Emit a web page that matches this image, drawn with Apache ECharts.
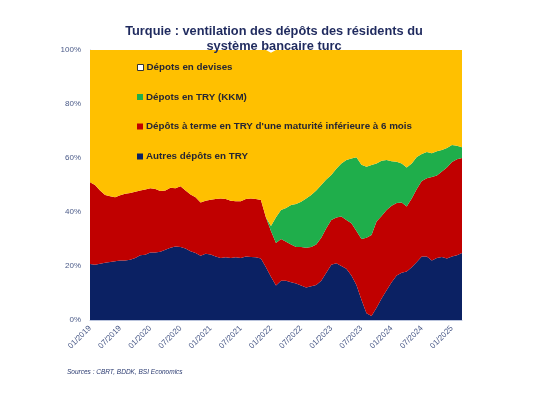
<!DOCTYPE html>
<html>
<head>
<meta charset="utf-8">
<script src="https://cdn.jsdelivr.net/npm/echarts@6/dist/echarts.min.js"></script>
<style>
html,body{margin:0;padding:0;background:#fff;}
#c{width:550px;height:398px;}
</style>
</head>
<body>
<div id="c"></div>
<script>
// Monthly categories 01/2019 .. 03/2025
const categories = [];
for (let y = 2019; y <= 2025; y++) {
  for (let m = 1; m <= 12; m++) {
    if (y === 2025 && m > 3) break;
    categories.push((m < 10 ? '0' + m : '' + m) + '/' + y);
  }
}

// Shares of residents' deposits (%)
const autresTRY = [20.7,20.5,20.8,21.2,21.5,21.8,22.0,22.0,22.3,23.0,
  24.0,24.2,25.0,25.0,25.3,26.0,26.8,27.2,27.0,26.5,
  25.5,24.8,23.8,24.5,24.3,23.5,23.0,23.2,23.0,23.2,
  23.0,23.5,23.3,23.2,22.8,19.5,16.0,12.8,14.5,14.5,
  14.0,13.5,12.8,12.0,12.5,13.0,14.5,17.5,20.5,21.0,
  20.0,19.0,16.5,13.0,7.5,2.5,1.5,4.5,8.0,11.0,
  14.0,16.5,17.5,18.0,19.5,21.5,23.5,23.5,22.0,23.0,
  23.3,22.8,23.5,24.0,24.8];

const termeTRY = [30.3,29.5,27.2,25.1,24.3,23.7,24.2,24.8,24.7,24.5,
  24.0,24.1,23.8,23.5,22.5,22.0,22.2,21.6,22.5,21.5,
  21.0,20.7,19.7,19.7,20.2,21.3,22.0,21.6,21.2,20.8,
  21.0,21.3,21.7,21.6,21.6,18.5,17.0,15.7,15.5,14.5,
  14.0,13.5,14.2,14.8,14.5,15.0,16.0,16.5,16.5,17.0,
  18.3,18.0,19.3,20.0,22.5,28.0,30.0,32.0,30.5,29.7,
  28.3,26.8,26.0,24.0,25.5,27.0,28.0,29.0,31.0,30.5,
  31.7,33.7,35.0,35.5,35.2];

const kkmTRY = [0,0,0,0,0,0,0,0,0,0,
  0,0,0,0,0,0,0,0,0,0,
  0,0,0,0,0,0,0,0,0,0,
  0,0,0,0,0,0,1.8,9.6,10.7,12.5,
  14.6,16.0,16.8,18.2,19.3,20.0,19.5,18.0,16.7,18.0,
  19.7,22.3,24.0,27.3,27.5,26.3,25.9,21.5,20.5,18.6,
  16.5,15.3,14.5,14.5,13.0,11.9,10.0,9.7,8.8,9.0,
  8.0,7.2,6.3,5.0,4.0];

const devises = [49.0,50.0,52.0,53.7,54.2,54.5,53.8,53.2,53.0,52.5,
  52.0,51.7,51.2,51.5,52.2,52.0,51.0,51.2,50.5,52.0,
  53.5,54.5,56.5,55.8,55.5,55.2,55.0,55.2,55.8,56.0,
  56.0,55.2,55.0,55.2,55.6,62.0,64.2,61.9,59.3,58.5,
  57.4,57.0,56.2,55.0,53.7,52.0,50.0,48.0,46.3,44.0,
  42.0,40.7,40.2,39.7,42.5,43.2,42.6,42.0,41.0,40.7,
  41.2,41.4,42.0,43.5,42.0,39.6,38.5,37.8,38.2,37.5,
  37.0,36.3,35.2,35.5,36.0];

const yTicks = [0, 20, 40, 60, 80, 100];

const names = {
  dev: 'Dépots en devises',
  kkm: 'Dépots en TRY (KKM)',
  terme: "Dépôts à terme en TRY d'une maturité inférieure à 6 mois",
  autres: 'Autres dépôts en TRY'
};
const colors = { dev: '#FFC000', kkm: '#1FAE4B', terme: '#C00000', autres: '#0B2163' };

const chart = echarts.init(document.getElementById('c'), null, { renderer: 'canvas' });

function areaSeries(name, data, color) {
  return {
    name: name, type: 'line', stack: 'total', data: data,
    symbol: 'none', smooth: false,
    lineStyle: { width: 0 },
    areaStyle: { color: color, opacity: 1 },
    itemStyle: { color: color },
    emphasis: { disabled: true },
    animation: false
  };
}

function legendItem(name, top, itemStyle) {
  return {
    left: 132, top: top, orient: 'vertical',
    itemWidth: 6, itemHeight: 6, itemGap: 0,
    icon: 'rect',
    selectedMode: false,
    textStyle: { fontFamily: 'Liberation Sans, Arial, sans-serif', fontSize: 9.8, fontWeight: 'bold', color: '#262633', padding: [0,0,0,-2] },
    data: [{ name: name, itemStyle: itemStyle }]
  };
}

chart.setOption({
  animation: false,
  backgroundColor: '#ffffff',
  title: {
    text: 'Turquie : ventilation des dépôts des résidents du\nsystème bancaire turc',
    left: 269, top: 19, textAlign: 'center',
    textStyle: { fontFamily: 'Liberation Sans, Arial, sans-serif', fontSize: 12.8, fontWeight: 'bold', color: '#1F2A5E', lineHeight: 15 }
  },
  graphic: [{
    type: 'text', left: 67, top: 369,
    style: { text: 'Sources : CBRT, BDDK, BSI Economics', fontFamily: 'Liberation Sans, Arial, sans-serif', fontSize: 6.5, fontStyle: 'italic', fill: '#2a3a70' }
  }],
  legend: [
    legendItem(names.dev, 57.5, { color: '#ffffff', borderColor: '#333', borderWidth: 1 }),
    legendItem(names.kkm, 87, { color: colors.kkm }),
    legendItem(names.terme, 116.5, { color: colors.terme }),
    legendItem(names.autres, 146.5, { color: colors.autres })
  ],
  grid: { left: 90, right: 88, top: 50, bottom: 78, containLabel: false, show: false },
  xAxis: {
    type: 'category', data: categories, boundaryGap: false,
    axisLine: { show: true, lineStyle: { color: '#b9c3dc', width: 1 } },
    axisTick: { show: false },
    axisLabel: {
      interval: 5, rotate: 45, margin: 7,
      fontFamily: 'Liberation Sans, Arial, sans-serif', fontSize: 8, color: '#4a5a88'
    },
    splitLine: { show: false }
  },
  yAxis: {
    type: 'value', min: yTicks[0], max: yTicks[yTicks.length - 1], interval: 20,
    axisLine: { show: true, lineStyle: { color: '#b9c3dc', width: 1 } },
    axisTick: { show: false },
    splitLine: { show: false },
    axisLabel: {
      formatter: '{value}%', margin: 9,
      fontFamily: 'Liberation Sans, Arial, sans-serif', fontSize: 8, color: '#4a5a88'
    }
  },
  series: [
    areaSeries(names.autres, autresTRY, colors.autres),
    areaSeries(names.terme, termeTRY, colors.terme),
    areaSeries(names.kkm, kkmTRY, colors.kkm),
    areaSeries(names.dev, devises, colors.dev)
  ]
});
</script>
</body>
</html>
